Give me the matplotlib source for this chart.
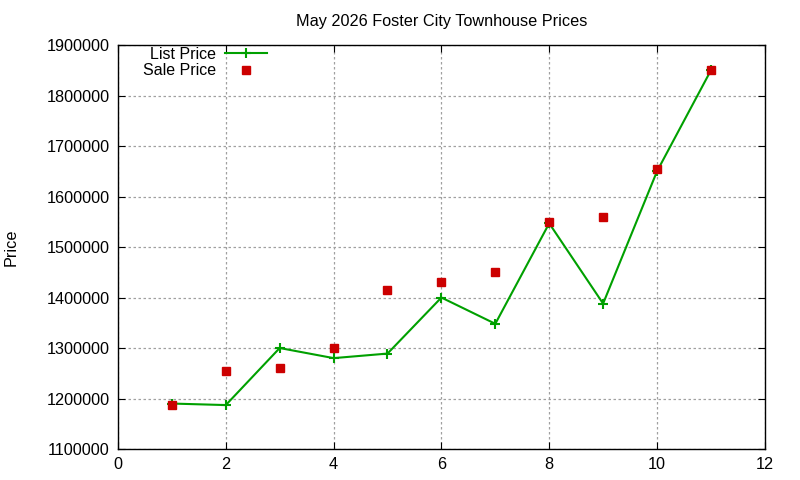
import matplotlib
matplotlib.use("Agg")
import matplotlib.pyplot as plt
from matplotlib.ticker import FuncFormatter

# Listing index and prices
units = [1, 2, 3, 4, 5, 6, 7, 8, 9, 10, 11]
list_price = [1190000, 1187000, 1300000, 1280000, 1289000, 1400000,
              1348000, 1547000, 1388000, 1650000, 1850000]
sale_price = [1187000, 1255000, 1260000, 1300000, 1415000, 1430000,
              1450000, 1550000, 1560000, 1655000, 1850000]

plt.rcParams["font.family"] = ["Liberation Sans", "DejaVu Sans"]
FS = 11.5

fig = plt.figure(figsize=(8, 4.8), dpi=100)
ax = fig.add_axes([0.1475, 0.0646, 0.8085, 0.8414])

ax.plot(units, list_price, color="#00a000", lw=1.5, marker="+", ms=6.5,
        mew=1.5, label="List Price")
ax.plot(units, sale_price, ls="none", marker="s", ms=5.5, color="#cc0000",
        label="Sale Price")

ax.set_xlim(0, 12)
ax.set_ylim(1100000, 1900000)
ax.set_xticks(range(0, 13, 2))
ax.set_yticks(range(1100000, 1900001, 100000))
ax.yaxis.set_major_formatter(FuncFormatter(lambda v, p: f"{int(v)}"))
ax.tick_params(direction="in", top=True, right=True, labelsize=11.7, length=5,
               pad=6)
ax.grid(True, color="#a0a0a0", ls=(0, (2, 2)), lw=0.9)
for s in ax.spines.values():
    s.set_linewidth(1.0)

ax.set_title("May 2026 Foster City Townhouse Prices", fontsize=11.7, pad=14)
ax.set_ylabel("Price", fontsize=11.7, labelpad=20)

ax.legend(loc="upper right", frameon=False, markerfirst=False, fontsize=FS,
          handlelength=2.6, borderaxespad=0.0, handletextpad=0.6,
          labelspacing=0.1, bbox_to_anchor=(0.240, 1.012))

fig.savefig("out.png", dpi=100)
